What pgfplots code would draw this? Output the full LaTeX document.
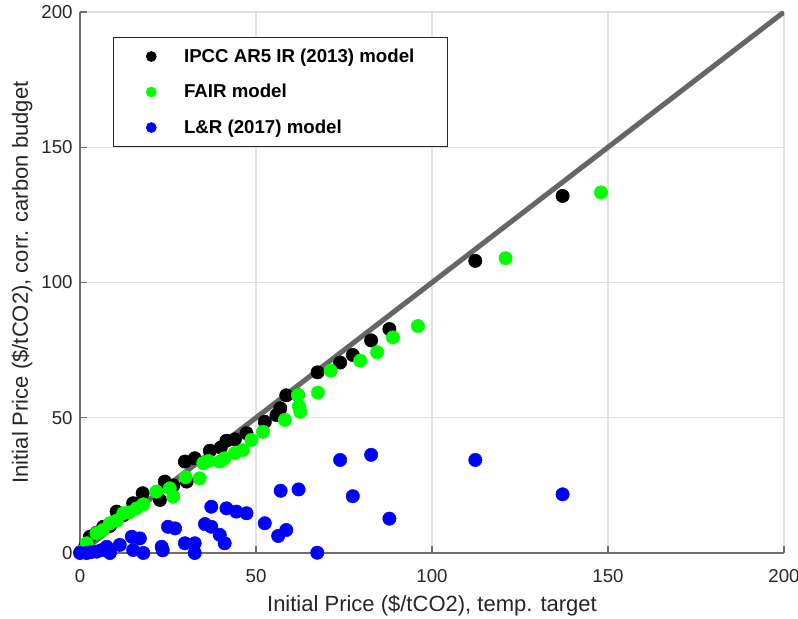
\documentclass[border=0pt]{standalone}
\usepackage{pgfplots}
\pgfplotsset{compat=1.18}
\usepackage{fontspec}
\setmainfont{Liberation Sans}

\definecolor{axgray}{RGB}{38,38,38}
\definecolor{axline}{RGB}{110,110,110}
\definecolor{gridgray}{RGB}{225,225,225}
\definecolor{linegray}{RGB}{102,102,102}
\definecolor{fairgreen}{RGB}{0,255,0}
\definecolor{lrblue}{RGB}{0,0,255}

\begin{document}
\begin{tikzpicture}
\begin{axis}[
    name=ax,
    scale only axis,
    width=528pt, height=405.75pt,
    xmin=0, xmax=200, ymin=0, ymax=200,
    axis lines=left,
    axis line style={-, axline, line width=1pt},
    xtick={0,50,100,150,200},
    ytick={0,50,100,150,200},
    grid=major,
    major grid style={gridgray, line width=0.8pt},
    tick style={axline, line width=0.8pt},
    tick align=inside,
    major tick length=5pt,
    ticklabel style={font=\fontsize{14}{16}\selectfont, text=axgray},
    xticklabel style={yshift=-9pt},
    yticklabel style={xshift=-2pt},
    /pgf/number format/assume math mode=true,
    xlabel={Initial Price (\$/tCO2), temp. target},
    ylabel={Initial Price (\$/tCO2), corr. carbon budget},
    label style={font=\fontsize{16.5}{19}\selectfont, text=axgray},
    xlabel style={yshift=-2pt},
    legend style={at={(0.0469,0.9538)}, anchor=north west,
        draw=axgray, line width=0.6pt,
        font=\bfseries\fontsize{14}{16}\selectfont,
        inner xsep=12pt, inner ysep=6.5pt,
        row sep=11pt},
    legend cell align=left,
    legend image code/.code={
        \path[draw=none] (0pt,0pt) -- (39pt,0pt);
        \draw[#1, mark size=3.7pt] plot coordinates {(16.4pt,0pt)};},
]

% IPCC AR5 IR (2013)
\addplot[only marks, mark=*, mark size=5pt, black, mark options={draw=none, fill=black}]
coordinates {
 (0.3,0.5) (1.5,2.5) (2.8,6.0) (4.7,7.5) (6.6,9.7) (8.5,10) (10.4,15.3)
 (12.3,14) (15.1,18.4) (17.8,22.1) (22.7,19.6) (24.1,26.4) (26.5,25)
 (30.3,26.4) (29.8,33.8) (32.6,35) (36.9,37.8) (40,39) (41.6,41.5)
 (44,42) (47.3,44.3) (52.5,48.5) (55.8,51) (56.9,53.5) (58.6,58.3)
 (61.9,58.4) (67.5,66.8) (73.9,70.4) (77.5,73.2) (82.7,78.6)
 (87.9,82.8) (112.3,108) (137.1,132)
};
\addlegendentry{IPCC AR5 IR (2013) model\rule{11pt}{0pt}}

% FAIR
\addplot[only marks, mark=*, mark size=5pt, fairgreen, mark options={draw=none, fill=fairgreen}]
coordinates {
 (0.5,0.5) (1.9,3.6) (4.7,7.3) (6.5,8.5) (8.5,11) (10.5,12) (12.3,14.7)
 (14,15) (16.1,16.5) (18,18) (21.7,22.7) (25.5,23.9) (26.5,20.8)
 (30,28) (34,27.6) (35,33.2) (36.5,34) (39.7,33.8) (41,35) (44,36.9)
 (46.3,38) (48.7,41.8) (52,44.8) (58.2,49.2) (62.2,54.3) (62.6,52.2)
 (61.9,58.4) (67.6,59.3) (71.2,67.4) (79.6,71.1) (84.4,74.2)
 (88.9,79.7) (96,83.9) (120.9,109) (148,133.3)
};
\addlegendentry{FAIR model}

% L&R (2017)
\addplot[only marks, mark=*, mark size=5pt, lrblue, mark options={draw=none, fill=lrblue}]
coordinates {
 (0,0) (1.9,0) (3,0.3) (4.7,0.5) (6,1) (7.6,2.3) (8.5,0) (11.3,3)
 (14.7,6) (17,5.4) (15.1,1.1) (18,0) (23.2,2.3) (23.5,1) (25,9.7)
 (27,9.1) (29.8,3.6) (32.6,3.6) (32.6,0) (35.5,10.7) (37.3,9.7)
 (37.3,17.1) (39.7,6.7) (41.1,3.6) (41.6,16.5) (44.4,15.3) (47.3,14.7)
 (52.5,11) (56.3,6.3) (58.6,8.5) (57,23) (62.1,23.5) (67.4,0.1)
 (73.9,34.4) (77.5,21) (82.7,36.3) (87.9,12.7) (112.3,34.4) (137.1,21.7)
};
\addlegendentry{L\&R (2017) model}

% 1:1 line
\addplot[linegray, line width=3.8pt, forget plot] coordinates {(0,0) (200,200)};

\end{axis}
\pgfresetboundingbox
\path[use as bounding box] ([xshift=-60pt,yshift=-48.75pt]ax.south west)
    rectangle ([xshift=10.5pt,yshift=9pt]ax.north east);
\end{tikzpicture}
\end{document}
